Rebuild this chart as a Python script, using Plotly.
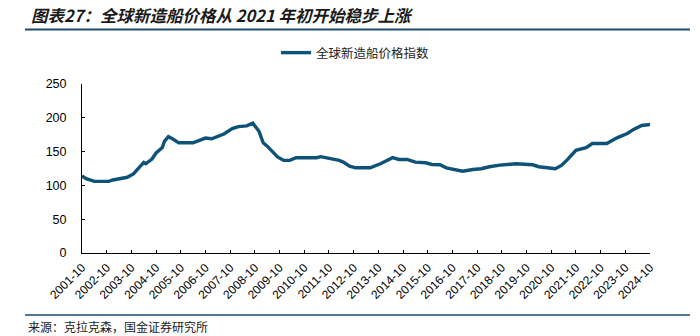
import plotly.graph_objects as go

# Clarksons newbuilding price index (monthly readings, selected months)
dates = [
    "2001-10", "2001-12", "2002-04", "2002-11", "2003-01", "2003-04", "2003-08",
    "2003-11", "2004-01", "2004-04", "2004-05", "2004-08", "2004-10", "2005-01",
    "2005-02", "2005-04", "2005-06", "2005-09", "2006-04", "2006-06", "2006-10",
    "2007-01", "2007-05", "2007-07", "2007-11", "2008-02", "2008-06", "2008-09",
    "2008-12", "2009-02", "2009-04", "2009-07", "2009-09", "2009-12", "2010-03",
    "2010-06", "2011-04", "2011-06", "2011-12", "2012-03", "2012-05", "2012-08",
    "2012-11", "2013-06", "2013-11", "2014-05", "2014-08", "2014-12", "2015-04",
    "2015-09", "2015-12", "2016-04", "2016-07", "2016-11", "2017-03", "2017-08",
    "2017-12", "2018-04", "2018-09", "2019-05", "2020-01", "2020-04", "2020-12",
    "2021-03", "2021-06", "2021-10", "2022-03", "2022-06", "2023-01", "2023-06",
    "2023-11", "2024-02", "2024-06", "2024-10",
]
index_values = [
    114, 110, 106, 106, 108, 110, 112,
    117, 124, 134, 132, 139, 148, 156,
    165, 172, 169, 163, 163, 165.5, 170,
    169, 173, 176, 184, 187, 188, 192,
    180, 163, 158, 148, 142, 137, 137,
    141, 141, 142.5, 139.5, 137, 134.5, 128.6,
    126, 126, 132, 141, 138.4, 138.4, 134.5,
    133.5, 131, 130.5, 126, 123.6, 121, 123.6,
    124.6, 127.6, 130, 132, 130.5, 127.6, 124.6,
    129.6, 138.4, 152, 155.7, 162, 162, 170.4,
    176.8, 182.8, 188.7, 190,
]
tick_dates = [f"{y}-10-01" for y in range(2001, 2025)]
tick_labels = [f"{y}-10" for y in range(2001, 2025)]

series_name = "全球新造船价格指数"
title_text = "图表27：全球新造船价格从 2021 年初开始稳步上涨"
source_text = "来源：克拉克森，国金证券研究所"

W, H = 700, 336
L, R, T, B = 82, 50, 84, 83
pw, ph = W - L - R, H - T - B


def px_x(x):
    return (x - L) / pw


def px_y(y):
    return (H - B - y) / ph


line_color = "#0e5278"
rule_color = "#1b4a6e"
cjk = "Noto Sans CJK SC"

fig = go.Figure()
fig.add_trace(go.Scatter(
    x=[d + "-01" for d in dates],
    y=index_values,
    mode="lines",
    name=series_name,
    line=dict(color=line_color, width=3.4),
))

fig.update_layout(
    width=W, height=H,
    margin=dict(l=L, r=R, t=T, b=B),
    paper_bgcolor="white", plot_bgcolor="white",
    showlegend=True,
    legend=dict(
        x=px_x(276), y=px_y(53), xanchor="left", yanchor="middle",
        orientation="h", font=dict(family=cjk, size=12.5, color="#222"),
        bgcolor="rgba(0,0,0,0)", itemwidth=30,
    ),
    xaxis=dict(
        type="date",
        range=["2001-10-01", "2024-10-01"],
        tickvals=tick_dates, ticktext=tick_labels,
        tickangle=-45,
        ticks="inside", ticklen=3, tickcolor="#000",
        showline=True, linecolor="#000", linewidth=1,
        showgrid=False, zeroline=False,
        ticklabelstandoff=2,
        tickfont=dict(family="Liberation Sans, Arial", size=12, color="#000"),
    ),
    yaxis=dict(
        range=[0, 250], dtick=50,
        ticks="inside", ticklen=3, tickcolor="#000",
        showline=True, linecolor="#000", linewidth=1,
        showgrid=False, zeroline=False,
        ticklabelstandoff=12,
        tickfont=dict(family="Liberation Sans, Arial", size=12.5, color="#000"),
    ),
    annotations=[
        dict(text="<b><i>" + title_text + "</i></b>",
             xref="paper", yref="paper", x=px_x(29), y=px_y(15),
             xanchor="left", yanchor="middle", showarrow=False,
             font=dict(family=cjk, size=16.5, color="#1a1a1a")),
        dict(text=source_text,
             xref="paper", yref="paper", x=px_x(26), y=px_y(326),
             xanchor="left", yanchor="middle", showarrow=False,
             font=dict(family=cjk, size=12, color="#222")),
    ],
    shapes=[
        dict(type="line", xref="paper", yref="paper",
             x0=px_x(25), x1=px_x(690), y0=px_y(29.5), y1=px_y(29.5),
             line=dict(color=rule_color, width=2)),
        dict(type="line", xref="paper", yref="paper",
             x0=px_x(25), x1=px_x(690), y0=px_y(315), y1=px_y(315),
             line=dict(color=rule_color, width=1.5)),
    ],
)

fig.write_html("out.html")
